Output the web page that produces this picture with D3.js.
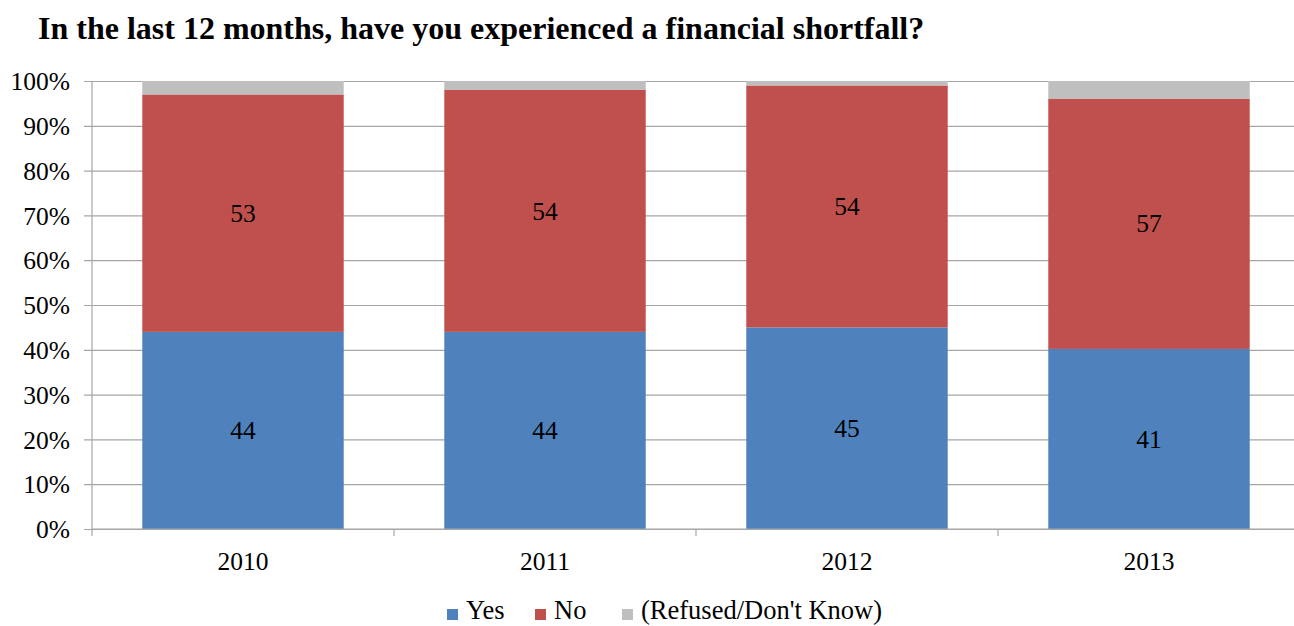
<!DOCTYPE html>
<html>
<head>
<meta charset="utf-8">
<script src="https://cdn.jsdelivr.net/npm/d3@7"></script>
<style>
  html, body { margin: 0; padding: 0; background: #fff; }
  svg { display: block; }
  text { font-family: "Liberation Serif", "Times New Roman", serif; fill: #000; }
</style>
</head>
<body>
<svg id="chart" width="1294" height="626"></svg>
<script>
// Survey responses by year (percent of respondents)
const years = ["2010", "2011", "2012", "2013"];
const yesValues = [44, 44, 45, 41];
const noValues = [53, 54, 54, 57];
const refusedValues = [3, 2, 1, 4];
const seriesNames = ["Yes", "No", "(Refused/Don't Know)"];
const seriesColors = ["#4F81BD", "#C0504D", "#BFBFBF"];
const yTicks = [0, 0.1, 0.2, 0.3, 0.4, 0.5, 0.6, 0.7, 0.8, 0.9, 1.0];

const rows = years.map((y, i) => ({
  year: y,
  "Yes": yesValues[i],
  "No": noValues[i],
  "(Refused/Don't Know)": refusedValues[i]
}));

const svg = d3.select("#chart");
const margin = { left: 92, right: -6, top: 81, bottom: 97 };
const width = 1294 - margin.left - margin.right;
const height = 626 - margin.top - margin.bottom;
const labelSize = "25.5px";

// Title
svg.append("text")
  .attr("x", 38).attr("y", 39)
  .style("font-size", "32px").style("font-weight", "bold")
  .text("In the last 12 months, have you experienced a financial shortfall?");

const g = svg.append("g").attr("transform", `translate(${margin.left},${margin.top})`);

const x = d3.scaleBand().domain(years).range([0, width]).paddingInner(0.333).paddingOuter(0.1665);
const xBand = d3.scaleBand().domain(years).range([0, width]);
const y = d3.scaleLinear().domain([0, 1]).range([height, 0]);

// Horizontal gridlines with short ticks left of the axis
const yAxis = d3.axisLeft(y).tickValues(yTicks).tickFormat(d3.format(".0%"))
  .tickSize(-width).tickPadding(22);
const yg = g.append("g").call(yAxis);
yg.select(".domain").remove();
yg.selectAll(".tick line").attr("stroke", "#A6A6A6").attr("stroke-width", 1.2).attr("x1", -8);
yg.selectAll(".tick text").style("font-size", labelSize).attr("dy", "0.34em");

// Stacked bars normalized to 100%
const stack = d3.stack().keys(seriesNames).offset(d3.stackOffsetExpand);
const layers = stack(rows);

const layerG = g.selectAll(".layer").data(layers).enter().append("g")
  .attr("fill", (d, i) => seriesColors[i]);
layerG.selectAll("rect").data(d => d).enter().append("rect")
  .attr("x", d => x(d.data.year))
  .attr("width", x.bandwidth())
  .attr("y", d => y(d[1]))
  .attr("height", d => y(d[0]) - y(d[1]));

// Value labels for Yes and No segments
layers.slice(0, 2).forEach(layer => {
  g.selectAll(null).data(layer).enter().append("text")
    .attr("x", d => x(d.data.year) + x.bandwidth() / 2)
    .attr("y", d => y((d[0] + d[1]) / 2))
    .attr("dy", "0.34em")
    .attr("text-anchor", "middle")
    .style("font-size", labelSize)
    .text(d => d.data[layer.key]);
});

// Y axis line
g.append("line").attr("x1", 0).attr("x2", 0).attr("y1", 0).attr("y2", height)
  .attr("stroke", "#A6A6A6").attr("stroke-width", 1.2);

// X axis with tick marks at category boundaries
g.append("line").attr("x1", 0).attr("x2", width).attr("y1", height).attr("y2", height)
  .attr("stroke", "#A6A6A6").attr("stroke-width", 1.2);
const boundaries = years.map(yr => xBand(yr)).concat([width]);
g.selectAll(".xtick").data(boundaries).enter().append("line")
  .attr("x1", d => d).attr("x2", d => d)
  .attr("y1", height).attr("y2", height + 7)
  .attr("stroke", "#A6A6A6").attr("stroke-width", 1.2);
g.selectAll(".xlabel").data(years).enter().append("text")
  .attr("x", d => xBand(d) + xBand.bandwidth() / 2)
  .attr("y", height + 41)
  .attr("text-anchor", "middle")
  .style("font-size", labelSize)
  .text(d => d);

// Legend
const legendItems = [
  { name: seriesNames[0], color: seriesColors[0], x: 447 },
  { name: seriesNames[1], color: seriesColors[1], x: 535 },
  { name: seriesNames[2], color: seriesColors[2], x: 622 }
];
const lg = svg.append("g");
legendItems.forEach(it => {
  lg.append("rect").attr("x", it.x).attr("y", 609).attr("width", 11).attr("height", 11).attr("fill", it.color);
  lg.append("text").attr("x", it.x + 19).attr("y", 619).style("font-size", "26.5px").text(it.name);
});
</script>
</body>
</html>
